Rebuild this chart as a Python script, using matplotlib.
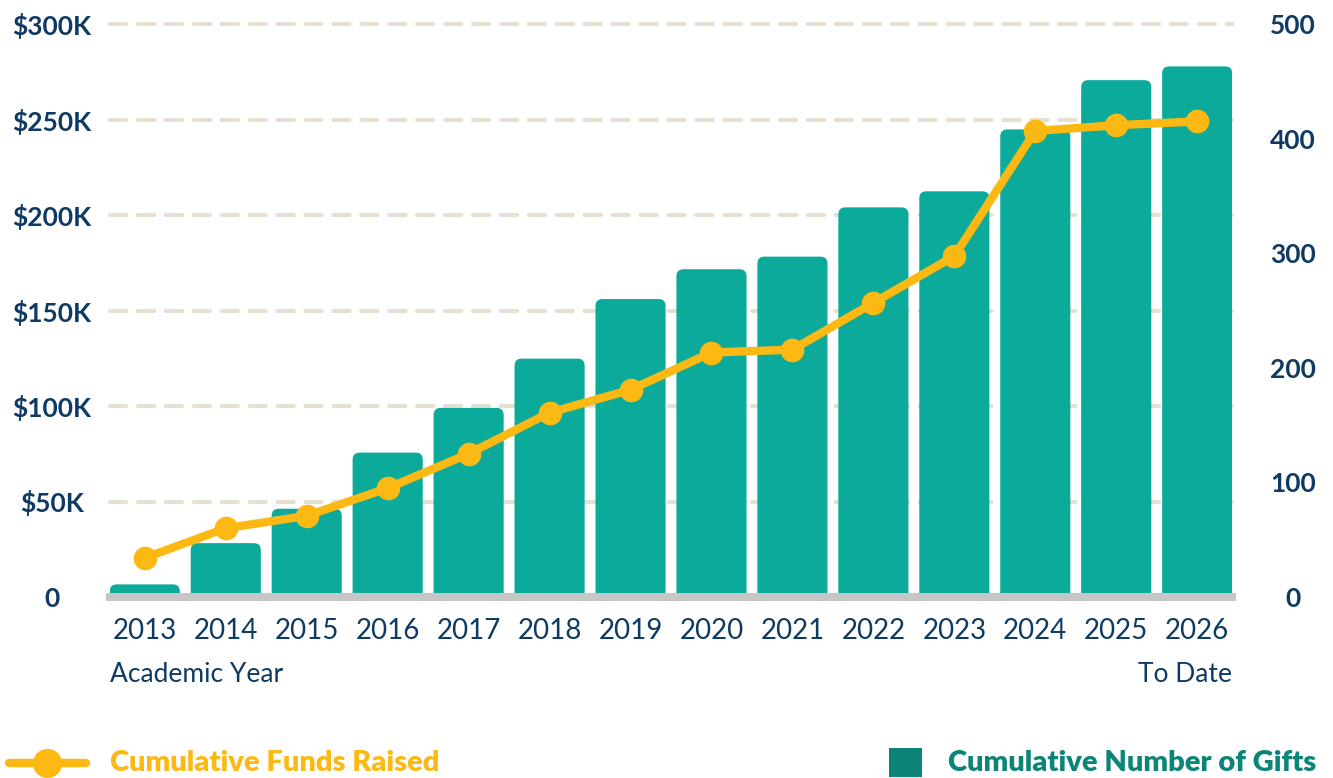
import matplotlib
matplotlib.use("Agg")
import matplotlib.pyplot as plt
import matplotlib.transforms as mtransforms
from matplotlib.patches import Rectangle, PathPatch
from matplotlib.path import Path
from matplotlib.lines import Line2D

plt.rcParams['font.family'] = ['Lato', 'DejaVu Sans']

years = ['2013', '2014', '2015', '2016', '2017', '2018', '2019',
         '2020', '2021', '2022', '2023', '2024', '2025', '2026']
gifts = [11, 47, 77, 126, 165, 208, 260, 286, 297, 340, 354, 408, 451, 463]
funds = [20500, 36000, 42500, 57000, 75000, 96500, 108500,
         128000, 129500, 154000, 178500, 244000, 247000, 249000]
funds_ticks = [0, 50000, 100000, 150000, 200000, 250000, 300000]
funds_labels = ['0', '$50K', '$100K', '$150K', '$200K', '$250K', '$300K']
gift_ticks = [0, 100, 200, 300, 400, 500]
gift_labels = ['0', '100', '200', '300', '400', '500']

NAVY = '#0E3A63'
TEAL = '#0BAA9A'
TEAL_DARK = '#0B8577'
GOLD = '#FDB913'
GRID = '#E6E0D3'
BASE = '#C6C6C6'

W, H = 1333, 778
fig = plt.figure(figsize=(W / 100, H / 100), dpi=100)
ax = fig.add_axes([110 / W, 1 - 597 / H, 1122 / W, 573 / H])
ax2 = ax.twinx()

ax.set_xlim(-0.43, len(years) - 1 + 0.43)
ax.set_ylim(0, 500)
ax2.set_ylim(0, 300000)

# pixel scale for rounded corners
p0 = ax.transData.transform((0, 0))
p1 = ax.transData.transform((1, 1))
px_x = p1[0] - p0[0]
px_y = p1[1] - p0[1]
r_px = 7
rx = r_px / px_x
ry = r_px / px_y
bw = 0.866

for i, v in enumerate(gifts):
    x0 = i - bw / 2
    x1 = i + bw / 2
    r_y = min(ry, v)
    verts = [(x0, 0), (x0, v - r_y), (x0, v), (x0 + rx, v),
             (x1 - rx, v), (x1, v), (x1, v - r_y), (x1, 0), (x0, 0)]
    codes = [Path.MOVETO, Path.LINETO, Path.CURVE3, Path.CURVE3,
             Path.LINETO, Path.CURVE3, Path.CURVE3, Path.LINETO,
             Path.CLOSEPOLY]
    ax.add_patch(PathPatch(Path(verts, codes), facecolor=TEAL,
                           edgecolor='none', zorder=2))

# dashed gridlines (funds scale) under bars
blend = mtransforms.blended_transform_factory(ax.transAxes, ax2.transData)
for t in funds_ticks:
    ax.plot([0, 1], [t, t], transform=blend, color=GRID, lw=3,
            linestyle=(0, (3.9, 2.8)), dash_capstyle='round',
            zorder=0.5, clip_on=False)

# baseline
ax2.axhline(0, color=BASE, lw=5.8, zorder=1, clip_on=False)

# funds line
ax2.plot(range(len(years)), funds, color=GOLD, lw=6, marker='o', ms=16,
         solid_capstyle='round', solid_joinstyle='round', zorder=3,
         clip_on=False)

for a in (ax, ax2):
    for s in a.spines.values():
        s.set_visible(False)

ax.set_xticks(range(len(years)))
ax.set_xticklabels(years, fontsize=20, color=NAVY)
ax.tick_params(axis='x', length=0, pad=15)

ax.yaxis.tick_right()
ax.set_yticks(gift_ticks)
ax.set_yticklabels(gift_labels, fontsize=19, color=NAVY, fontweight='bold',
                   ha='center')
ax.tick_params(axis='y', length=0, pad=44)

ax2.yaxis.tick_left()
ax2.set_yticks(funds_ticks)
ax2.set_yticklabels(funds_labels, fontsize=19, color=NAVY, fontweight='bold',
                    ha='center')
ax2.tick_params(axis='y', length=0, pad=42)

ax.text(0, (597 - 675) / 573, 'Academic Year', transform=ax.transAxes,
        ha='left', va='center', fontsize=19, color=NAVY)
ax.text(1, (597 - 675) / 573, 'To Date', transform=ax.transAxes,
        ha='right', va='center', fontsize=19, color=NAVY)

# legend
ly = 1 - 763 / H
fig.add_artist(Line2D([9 / W, 86 / W], [ly, ly], color=GOLD, lw=6,
                      solid_capstyle='round'))
fig.add_artist(Line2D([47 / W], [ly], color=GOLD, marker='o', ms=20,
                      linestyle='none'))
fig.text(110 / W, ly, 'Cumulative Funds Raised', ha='left', va='center',
         fontsize=21, fontweight='heavy', color=GOLD)
fig.add_artist(Rectangle((889 / W, 1 - 777 / H), 33 / W, 29 / H,
                         facecolor=TEAL_DARK, edgecolor='none',
                         transform=fig.transFigure))
fig.text(948 / W, ly, 'Cumulative Number of Gifts', ha='left', va='center',
         fontsize=21, fontweight='heavy', color=TEAL_DARK)

fig.savefig('out.png', dpi=100)
